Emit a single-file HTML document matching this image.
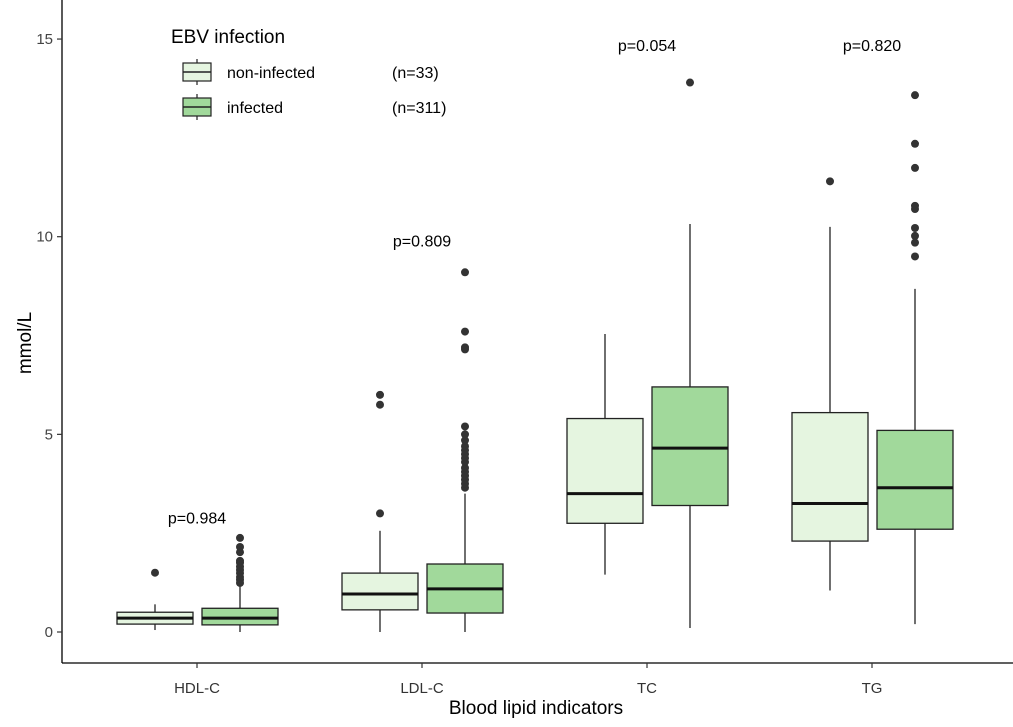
<!DOCTYPE html>
<html><head><meta charset="utf-8"><style>
body{margin:0;background:#fff}
svg{display:block;font-family:"Liberation Sans",Arial,sans-serif}
</style></head><body>
<svg id="chart" width="1013" height="727">
<g id="plot"></g>
</svg>
<script>
const categories=["HDL-C","LDL-C","TC","TG"];
const groups=["non-infected","infected"];
const groupCounts=["(n=33)","(n=311)"];
const pLabels=["p=0.984","p=0.809","p=0.054","p=0.820"];
const pLabelY=[2.9,9.9,14.85,14.85];
// [lowerWhisker,q1,median,q3,upperWhisker] per category
const nonInfected=[[0.05,0.2,0.35,0.5,0.7],[0,0.56,0.96,1.49,2.56],[1.45,2.75,3.5,5.4,7.54],[1.05,2.3,3.25,5.55,10.25]];
const infected=[[0,0.18,0.35,0.6,1.15],[0,0.48,1.09,1.72,3.5],[0.1,3.2,4.65,6.2,10.32],[0.2,2.6,3.65,5.1,8.68]];
const nonOutliers=[[1.5],[3.0,5.75,6.0],[],[11.4]];
const infOutliers=[[1.24,1.32,1.39,1.49,1.57,1.65,1.75,1.8,2.02,2.15,2.38],[3.65,3.75,3.85,3.95,4.05,4.15,4.3,4.4,4.5,4.6,4.7,4.85,5.0,5.2,7.15,7.2,7.6,9.1],[13.9],[9.5,9.85,10.02,10.22,10.7,10.78,11.74,12.35,13.58]];
const yTicks=[0,5,10,15];

const NS="http://www.w3.org/2000/svg";
const g=document.getElementById('plot');
const y=v=>632-v*39.53;
const x=i=>197+i*225;
const fills=["#e5f5e0","#a1d99b"];
function mk(tag,attrs,parent){const e=document.createElementNS(NS,tag);for(const k in attrs)e.setAttribute(k,attrs[k]);(parent||g).appendChild(e);return e;}

// axes
let ax=mk('line',{x1:62,y1:0,x2:62,y2:663,stroke:'#000','stroke-width':1.3});


ax=mk('line',{x1:62,y1:663,x2:1013,y2:663,stroke:'#000','stroke-width':1.3});


yTicks.forEach(t=>{
  const l=mk('line',{x1:57,x2:62,y1:y(t),y2:y(t),stroke:'#333','stroke-width':1.2});
  
  
  const tx=mk('text',{x:53,y:y(t)+5,'text-anchor':'end','font-size':15,fill:'#444'});
  tx.textContent=t;
  
  
});
categories.forEach((c,i)=>{
  const l=mk('line',{x1:x(i),x2:x(i),y1:663,y2:668,stroke:'#333','stroke-width':1.2});
  
  
  const tx=mk('text',{x:x(i),y:693,'text-anchor':'middle','font-size':15,fill:'#333'});
  tx.textContent=c;
  
  
  const p=mk('text',{x:x(i),y:y(pLabelY[i])+6,'text-anchor':'middle','font-size':16,fill:'#000'});
  p.textContent=pLabels[i];
  
  
});
function box(cx,s,fill,outs){
  const w=76,grp=mk('g',{});
  
  
  mk('line',{x1:cx,x2:cx,y1:y(s[0]),y2:y(s[4]),stroke:'#222','stroke-width':1.3},grp);
  mk('rect',{x:cx-w/2,y:y(s[3]),width:w,height:y(s[1])-y(s[3]),fill:fill,stroke:'#222','stroke-width':1.3},grp);
  mk('line',{x1:cx-w/2,x2:cx+w/2,y1:y(s[2]),y2:y(s[2]),stroke:'#111','stroke-width':3},grp);
  outs.forEach(o=>{
    const d=mk('circle',{cx:cx,cy:y(o),r:4,fill:'#333'},grp);
    
    
  });
}
categories.forEach((c,i)=>{
  box(x(i)-42,nonInfected[i],fills[0],nonOutliers[i]);
  box(x(i)+43,infected[i],fills[1],infOutliers[i]);
});
// titles
let t=mk('text',{x:536,y:714,'text-anchor':'middle','font-size':19,fill:'#000'});
t.textContent="Blood lipid indicators";


t=mk('text',{x:0,y:0,'text-anchor':'middle','font-size':19,fill:'#000',transform:'translate(31,343) rotate(-90)'});
t.textContent="mmol/L";


// legend
t=mk('text',{x:171,y:43,'font-size':19,fill:'#000'});
t.textContent="EBV infection";


groups.forEach((gname,k)=>{
  const top=63+k*35,lg=mk('g',{});
  
  
  mk('line',{x1:197,x2:197,y1:top-4,y2:top+22,stroke:'#222','stroke-width':1.2},lg);
  mk('rect',{x:183,y:top,width:28,height:18,fill:fills[k],stroke:'#222','stroke-width':1.2},lg);
  mk('line',{x1:183,x2:211,y1:top+9,y2:top+9,stroke:'#222','stroke-width':1.5},lg);
  const a=mk('text',{x:227,y:top+15,'font-size':16,fill:'#000'},lg);a.textContent=gname;
  const b=mk('text',{x:392,y:top+15,'font-size':16,fill:'#000'},lg);b.textContent=groupCounts[k];
});
</script>
</body></html>
